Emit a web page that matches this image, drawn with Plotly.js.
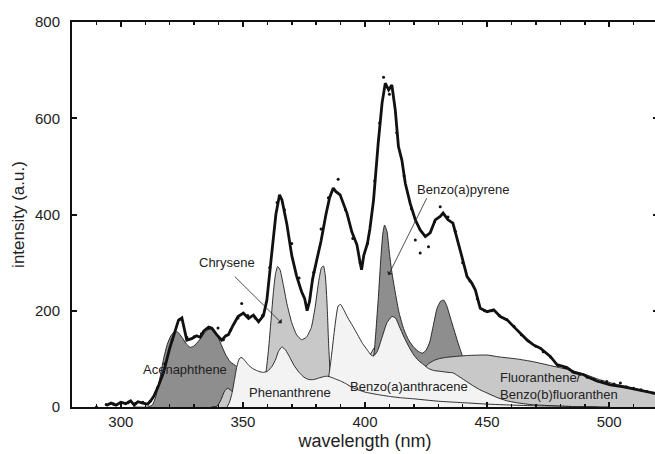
<!DOCTYPE html>
<html><head><meta charset="utf-8">
<script src="https://cdn.plot.ly/plotly-3.0.1.min.js"></script>
<style>html,body{margin:0;padding:0;overflow:hidden;background:#fff}#chart{width:660px;height:454px}</style>
</head><body><div id="chart"></div>
<script>
// Component spectra (wavelength nm, intensity a.u.)
const acenX = [305,311,313,314.5,316,317.5,319,320.5,322,323.5,325,327,328.5,330,332,334,335.5,336.6,338,339.5,341.5,343,344.8,347.5,350,353,356,360,365];
const acenY = [0,0,5,25,60,100,130,148,157,155,145,130,124,127,138,152,160,162,158,148,125,108,94,84,70,50,30,12,0];

const chryX = [337,339.5,341,342.5,343.7,345,346.5,348,352,356,358.5,359.5,360.5,361.5,362.5,363.3,364.2,365.2,366.5,368,370,372,374,376,378,379.5,381,382.2,383,383.8,384.5,385.2,386,388,392,396,400,402.5,404,405.5,408,412,418,425,430];
const chryY = [0,2,15,33,39,35,28,24,25,35,55,75,120,180,240,275,292,285,255,215,175,150,140,145,165,205,260,290,293,270,210,120,65,48,48,62,90,112,124,118,92,55,20,5,0];

const bapX = [398,400,402,403,403.8,404.5,405.5,406.5,407.3,408,409,410,411,412.5,414,416,418,420,422,423.5,425,426.5,428,429.5,431,432.3,433.5,435,436.5,438,440,441,443,446,450,455];
const bapY = [0,5,40,85,115,160,230,310,360,378,365,320,280,235,195,160,138,124,115,112,118,135,170,205,220,222,210,185,160,135,105,95,70,40,15,0];

const fluoX = [380,390,400,410,415,420,424,426,428,430,433,437,442,450,455,462,469,476,483,490,496,503,510,515,520];
const fluoY = [0,5,20,38,48,62,80,90,96,100,103,105,107,108,104,100,94,86,78,68,57,47,39,33,28];

const baaX = [378,381,383,385,386,387.5,389,390,391.5,393,395,397,399,401,402.5,403.5,405,407,409,411,412.5,414,416,418,420,422,424,426,428,431,434,436,438,441,444,447,450,454,458,462,468,475,485,495];
const baaY = [0,10,30,60,95,160,210,213,200,185,168,150,132,118,108,106,115,145,175,188,185,168,145,125,108,96,88,80,76,74,72,71,65,55,45,36,29,20,13,9,5,3,1,0];

const phenX = [343.5,344.5,345.5,346.5,347.5,348.5,349.2,350,351,352.5,354,356,358,360,362,363.5,364.5,366,367.5,369,371,373,375,377,379,381,383,384.5,386,388,390,392,395,400,405,410,415,420,430,440,450,460,470,480,490,500];
const phenY = [0,10,28,55,84,100,103,101,95,86,80,75,72,74,85,100,115,125,118,105,86,72,62,57,57,60,63,64,62,58,54,49,40,31,26,22,19,17,12,9,6,4,2.5,1.5,0.5,0];

// Measured spectrum (thick line)
const measX = [294,296,298,300,302,304,305.5,307,309,311,312.5,313.5,315.5,317.5,320,322,323.6,325,326,327,329,331,332.5,334,336,337.3,339,341.3,343,344,346,348,350.2,352.3,354.3,356.4,358.4,359.8,361.8,363.5,365,366,368,370,372,374,375.3,376.3,377.3,378.5,380,382,384,385.5,387,388,389.8,392.6,394.6,396.7,398,398.6,399.5,401,402,403.5,405.4,407,408.3,409.7,411,412.4,413.7,415.1,416.5,418.5,420.6,422.6,424.7,426.7,428.8,430.8,432,434,436,438,439.7,441.8,443.8,445.2,447.2,450,452.7,455.4,458.2,460.9,463.6,466.4,469,471.8,475.9,478.6,482.7,485.5,489.6,491,495,500.5,506,512.8,519];
const measY = [3,8,4,10,7,13,4,11,8,6,15,22,45,72,122,155,180,185,160,139,142,148,145,158,166,164,152,139,148,150,170,188,195,184,191,177,190,222,319,400,441,430,380,315,272,240,225,200,220,265,300,345,400,435,455,448,441,403,364,337,300,285,315,340,370,430,548,632,673,659,669,617,541,513,465,423,389,368,354,362,389,396,403,389,382,347,312,271,257,243,205,198,202,188,181,167,153,139,129,122,105,88,82,72,67,63,54,46,42,35,28];

// Measured data points (dots)
const dotX = [290,294,297,300,303,306,309,312,315,318,321,324,327,330,333,336,339.8,342,345,348,349.5,352,355,358,361,364,367,370,373,376,379,382,385,389,392,395,398,401,404,406,407.6,410,413,416,419,420.6,422.6,426,428.5,430.8,434,437,440,443,446,449,452,455,458,461,464,467,470,473,476,479,482,485,488,491,494,497,499,502,504.6,507,510,513,515.5,518];
const dotY = [0,5,6,9,9,8,10,12,40,90,140,182,145,146,152,164,164,140,160,185,215,190,185,190,290,425,410,340,268,210,280,370,435,473,410,350,300,340,470,590,685,650,570,480,412,347,320,333,385,416,395,365,300,262,225,200,200,190,182,168,150,137,126,115,104,86,82,73,68,62,57,53,53,48,50,42,39,36,32,29];

const DARK = '#8e8e8e', LIGHT = '#c8c8c8', PALE = '#f3f3f3';
const FONT = 'Liberation Sans, Arial, sans-serif';

function area(x, y, fill, name) {
  return {x: x, y: y, type: 'scatter', mode: 'lines', fill: 'tozeroy', fillcolor: fill,
          line: {color: '#1a1a1a', width: 0.9, shape: 'spline', smoothing: 0.5}, name: name, hoverinfo: 'skip'};
}

const traces = [
  area(acenX, acenY, DARK, 'Acenaphthene'),
  area(chryX, chryY, LIGHT, 'Chrysene'),
  area(bapX, bapY, DARK, 'Benzo(a)pyrene'),
  area(fluoX, fluoY, LIGHT, 'Fluoranthene'),
  area(baaX, baaY, PALE, 'Benzo(a)anthracene'),
  area(phenX, phenY, PALE, 'Phenanthrene'),
  {x: measX, y: measY, type: 'scatter', mode: 'lines', line: {color: '#111', width: 2.8}, name: 'measured'},
  {x: dotX, y: dotY, type: 'scatter', mode: 'markers', marker: {color: '#111', size: 3}, name: 'data'}
];

const lbl = (x, y, t, extra) => Object.assign({x: x, y: y, xref: 'x', yref: 'y', text: t, showarrow: false,
  font: {family: FONT, size: 13, color: '#222'}}, extra || {});
const arr = (x, y, ax, ay) => ({x: x, y: y, ax: ax, ay: ay, xref: 'x', yref: 'y', axref: 'x', ayref: 'y', text: '',
  showarrow: true, arrowhead: 1, arrowsize: 1.3, arrowwidth: 0.8, arrowcolor: '#222'});

const layout = {
  width: 660, height: 454,
  margin: {l: 72, r: 2, t: 22, b: 47},
  paper_bgcolor: '#fff', plot_bgcolor: '#fff',
  showlegend: false,
  font: {family: FONT, color: '#222'},
  xaxis: {range: [280, 520], dtick: 50, tick0: 300, ticks: 'inside', ticklen: 5, tickwidth: 2, tickcolor: '#111',
          showline: true, linewidth: 2, linecolor: '#111', mirror: 'ticks', showgrid: false, zeroline: false,
          minor: {dtick: 10, ticks: 'inside', ticklen: 3, tickwidth: 1.5, tickcolor: '#111', showgrid: false},
          tickfont: {family: FONT, size: 15, color: '#222'},
          title: {text: 'wavelength (nm)', font: {family: FONT, size: 18, color: '#222'}, standoff: 5}},
  yaxis: {range: [0, 800], dtick: 200, ticks: 'inside', ticklen: 5, tickwidth: 2, tickcolor: '#111',
          showline: true, linewidth: 2, linecolor: '#111', mirror: 'ticks', showgrid: false, zeroline: false,
          ticklabelstandoff: 7,
          tickfont: {family: FONT, size: 15, color: '#222'},
          title: {text: 'intensity (a.u.)', font: {family: FONT, size: 17, color: '#222'}, standoff: 6}},
  annotations: [
    lbl(326.3, 77, 'Acenaphthene'),
    lbl(369.3, 31, 'Phenanthrene'),
    lbl(417.9, 42, 'Benzo(a)anthracene'),
    lbl(454.6, 44, 'Fluoranthene/<br>Benzo(b)fluoranthen', {xanchor: 'left', align: 'left'}),
    lbl(343.5, 301, 'Chrysene'),
    lbl(440.5, 452, 'Benzo(a)pyrene'),
    arr(365.9, 174, 346.1, 274),
    arr(409.6, 274, 425.6, 437)
  ]
};

Plotly.newPlot('chart', traces, layout, {staticPlot: true, displayModeBar: false});
</script></body></html>
